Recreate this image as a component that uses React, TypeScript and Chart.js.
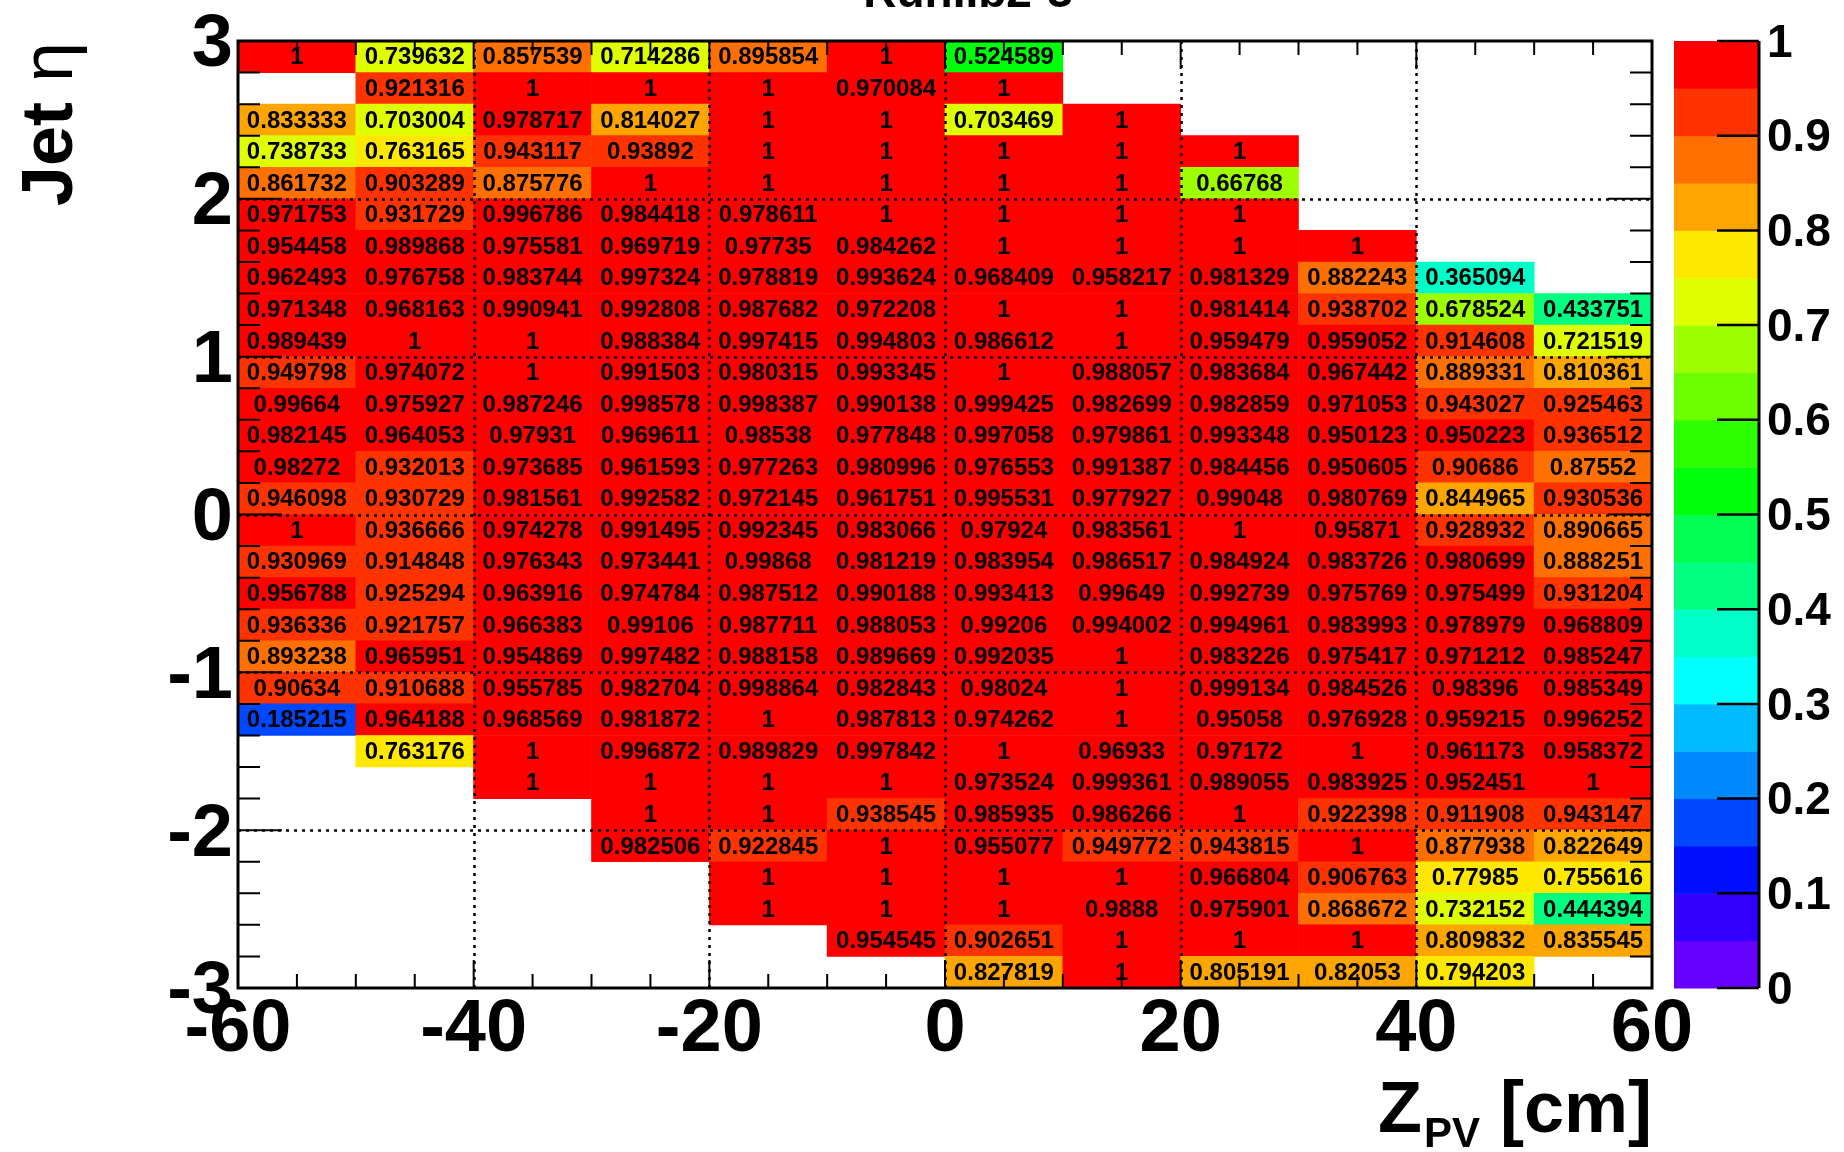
import React, { useEffect, useRef } from "react";
import { Chart, registerables } from "chart.js";

Chart.register(...registerables);

// ---- data ----
const zEdges = [-60, -50, -40, -30, -20, -10, 0, 10, 20, 30, 40, 50, 60];
const etaEdges = [
  -3, -2.8, -2.6, -2.4, -2.2, -2, -1.8, -1.6, -1.4, -1.2, -1, -0.8, -0.6, -0.4, -0.2, 0,
  0.2, 0.4, 0.6, 0.8, 1, 1.2, 1.4, 1.6, 1.8, 2, 2.2, 2.4, 2.6, 2.8, 3,
];
const N = null;
// rows listed from the top (2.8 < eta < 3.0) down to the bottom (-3.0 < eta < -2.8)
const efficiencyRows: (number | null)[][] = [
  [1, 0.739632, 0.857539, 0.714286, 0.895854, 1, 0.524589, N, N, N, N, N],
  [N, 0.921316, 1, 1, 1, 0.970084, 1, N, N, N, N, N],
  [0.833333, 0.703004, 0.978717, 0.814027, 1, 1, 0.703469, 1, N, N, N, N],
  [0.738733, 0.763165, 0.943117, 0.93892, 1, 1, 1, 1, 1, N, N, N],
  [0.861732, 0.903289, 0.875776, 1, 1, 1, 1, 1, 0.66768, N, N, N],
  [0.971753, 0.931729, 0.996786, 0.984418, 0.978611, 1, 1, 1, 1, N, N, N],
  [0.954458, 0.989868, 0.975581, 0.969719, 0.97735, 0.984262, 1, 1, 1, 1, N, N],
  [0.962493, 0.976758, 0.983744, 0.997324, 0.978819, 0.993624, 0.968409, 0.958217, 0.981329, 0.882243, 0.365094, N],
  [0.971348, 0.968163, 0.990941, 0.992808, 0.987682, 0.972208, 1, 1, 0.981414, 0.938702, 0.678524, 0.433751],
  [0.989439, 1, 1, 0.988384, 0.997415, 0.994803, 0.986612, 1, 0.959479, 0.959052, 0.914608, 0.721519],
  [0.949798, 0.974072, 1, 0.991503, 0.980315, 0.993345, 1, 0.988057, 0.983684, 0.967442, 0.889331, 0.810361],
  [0.99664, 0.975927, 0.987246, 0.998578, 0.998387, 0.990138, 0.999425, 0.982699, 0.982859, 0.971053, 0.943027, 0.925463],
  [0.982145, 0.964053, 0.97931, 0.969611, 0.98538, 0.977848, 0.997058, 0.979861, 0.993348, 0.950123, 0.950223, 0.936512],
  [0.98272, 0.932013, 0.973685, 0.961593, 0.977263, 0.980996, 0.976553, 0.991387, 0.984456, 0.950605, 0.90686, 0.87552],
  [0.946098, 0.930729, 0.981561, 0.992582, 0.972145, 0.961751, 0.995531, 0.977927, 0.99048, 0.980769, 0.844965, 0.930536],
  [1, 0.936666, 0.974278, 0.991495, 0.992345, 0.983066, 0.97924, 0.983561, 1, 0.95871, 0.928932, 0.890665],
  [0.930969, 0.914848, 0.976343, 0.973441, 0.99868, 0.981219, 0.983954, 0.986517, 0.984924, 0.983726, 0.980699, 0.888251],
  [0.956788, 0.925294, 0.963916, 0.974784, 0.987512, 0.990188, 0.993413, 0.99649, 0.992739, 0.975769, 0.975499, 0.931204],
  [0.936336, 0.921757, 0.966383, 0.99106, 0.987711, 0.988053, 0.99206, 0.994002, 0.994961, 0.983993, 0.978979, 0.968809],
  [0.893238, 0.965951, 0.954869, 0.997482, 0.988158, 0.989669, 0.992035, 1, 0.983226, 0.975417, 0.971212, 0.985247],
  [0.90634, 0.910688, 0.955785, 0.982704, 0.998864, 0.982843, 0.98024, 1, 0.999134, 0.984526, 0.98396, 0.985349],
  [0.185215, 0.964188, 0.968569, 0.981872, 1, 0.987813, 0.974262, 1, 0.95058, 0.976928, 0.959215, 0.996252],
  [N, 0.763176, 1, 0.996872, 0.989829, 0.997842, 1, 0.96933, 0.97172, 1, 0.961173, 0.958372],
  [N, N, 1, 1, 1, 1, 0.973524, 0.999361, 0.989055, 0.983925, 0.952451, 1],
  [N, N, N, 1, 1, 0.938545, 0.985935, 0.986266, 1, 0.922398, 0.911908, 0.943147],
  [N, N, N, 0.982506, 0.922845, 1, 0.955077, 0.949772, 0.943815, 1, 0.877938, 0.822649],
  [N, N, N, N, 1, 1, 1, 1, 0.966804, 0.906763, 0.77985, 0.755616],
  [N, N, N, N, 1, 1, 1, 0.9888, 0.975901, 0.868672, 0.732152, 0.444394],
  [N, N, N, N, N, 0.954545, 0.902651, 1, 1, 1, 0.809832, 0.835545],
  [N, N, N, N, N, N, 0.827819, 1, 0.805191, 0.82053, 0.794203, N],
];
const xGridValues = [-40, -20, 0, 20, 40];
const yGridValues = [-2, -1, 0, 1, 2];
const paletteColors = [
  "#6600ff", "#3300ff", "#0010ff", "#0048ff", "#0088ff",
  "#00bbff", "#00ffff", "#00ffc8", "#00ff80", "#00ff50",
  "#00ff0a", "#2eff00", "#6cff00", "#9eff00", "#dfff00",
  "#ffe800", "#ffa500", "#ff7000", "#ff3300", "#ff0000",
];
const titleText = "RunIIb2-3";

const FONT = '"Liberation Sans", Arial, Helvetica, sans-serif';

function colorFor(v: number) {
  const idx = Math.max(0, Math.min(paletteColors.length - 1, Math.floor(v * paletteColors.length)));
  return paletteColors[idx];
}

type Cell = { x: [number, number]; y: number; v: number };

function buildCells(): Cell[] {
  const cells: Cell[] = [];
  const nRows = efficiencyRows.length;
  efficiencyRows.forEach((row, r) => {
    const lo = etaEdges[nRows - 1 - r];
    const hi = etaEdges[nRows - r];
    row.forEach((v, c) => {
      if (v === null) return;
      cells.push({ x: [zEdges[c], zEdges[c + 1]], y: (lo + hi) / 2, v });
    });
  });
  return cells;
}

const decorPlugin = {
  id: "rootDecor",
  afterDatasetsDraw(chart: any) {
    const { ctx, chartArea: a } = chart;
    const xs = chart.scales.x;
    const ys = chart.scales.y;
    ctx.save();
    // dotted grid
    ctx.strokeStyle = "#000";
    ctx.lineWidth = 2.5;
    ctx.setLineDash([3, 5]);
    for (const v of xGridValues) {
      const px = Math.round(xs.getPixelForValue(v)) + 0.5;
      ctx.beginPath();
      ctx.moveTo(px, a.top);
      ctx.lineTo(px, a.bottom);
      ctx.stroke();
    }
    for (const v of yGridValues) {
      const py = Math.round(ys.getPixelForValue(v)) + 0.5;
      ctx.beginPath();
      ctx.moveTo(a.left, py);
      ctx.lineTo(a.right, py);
      ctx.stroke();
    }
    ctx.setLineDash([]);
    // cell texts
    ctx.fillStyle = "#000";
    ctx.font = `bold 24px ${FONT}`;
    ctx.textAlign = "center";
    ctx.textBaseline = "middle";
    const data = chart.data.datasets[0].data as Cell[];
    data.forEach((d) => {
      const cx = (xs.getPixelForValue(d.x[0]) + xs.getPixelForValue(d.x[1])) / 2;
      const cy = ys.getPixelForValue(d.y);
      ctx.fillText(String(d.v), cx, cy + 1);
    });
    // frame
    ctx.lineWidth = 3;
    ctx.strokeStyle = "#000";
    ctx.strokeRect(a.left, a.top, a.right - a.left, a.bottom - a.top);
    // x ticks (every 5, major every 20), top and bottom, pointing inward
    ctx.lineWidth = 2;
    for (let v = -60; v <= 60; v += 5) {
      const px = xs.getPixelForValue(v);
      const len = v % 20 === 0 ? 28 : 14;
      ctx.beginPath();
      ctx.moveTo(px, a.bottom);
      ctx.lineTo(px, a.bottom - len);
      ctx.moveTo(px, a.top);
      ctx.lineTo(px, a.top + len);
      ctx.stroke();
    }
    // y ticks (every 0.2, major every 1), left and right
    for (let k = -15; k <= 15; k++) {
      const v = k / 5;
      const py = ys.getPixelForValue(v);
      const len = k % 5 === 0 ? 44 : 22;
      ctx.beginPath();
      ctx.moveTo(a.left, py);
      ctx.lineTo(a.left + len, py);
      ctx.moveTo(a.right, py);
      ctx.lineTo(a.right - len, py);
      ctx.stroke();
    }
    ctx.restore();
  },
  afterDraw(chart: any) {
    const { ctx, chartArea: a } = chart;
    const zs = chart.scales.z;
    ctx.save();
    // colour bar
    const barL = zs.left + 22;
    const barR = zs.left + 107;
    for (let k = 0; k < paletteColors.length; k++) {
      const y0 = zs.getPixelForValue(k / paletteColors.length);
      const y1 = zs.getPixelForValue((k + 1) / paletteColors.length);
      ctx.fillStyle = paletteColors[k];
      ctx.fillRect(barL, y1, barR - barL, y0 - y1 + 0.5);
    }
    ctx.strokeStyle = "#000";
    ctx.lineWidth = 3;
    ctx.beginPath();
    ctx.moveTo(barR, zs.top);
    ctx.lineTo(barR, zs.bottom);
    ctx.stroke();
    ctx.lineWidth = 2.5;
    for (let k = 0; k <= 10; k++) {
      const py = zs.getPixelForValue(k / 10);
      ctx.beginPath();
      ctx.moveTo(barR - 42, py);
      ctx.lineTo(barR, py);
      ctx.stroke();
    }
    // title (mostly above the canvas, as in the reference)
    ctx.fillStyle = "#000";
    ctx.textBaseline = "alphabetic";
    ctx.textAlign = "center";
    ctx.font = `bold 46px ${FONT}`;
    ctx.fillText(titleText, 968, 7);
    // x title: Z_PV [cm]
    const big = `bold 72px ${FONT}`;
    const sub = `bold 42px ${FONT}`;
    ctx.textAlign = "left";
    ctx.font = big;
    const wZ = ctx.measureText("Z").width;
    const wRest = ctx.measureText(" [cm]").width;
    ctx.font = sub;
    const wSub = ctx.measureText("PV").width;
    const xEnd = a.right;
    let x0 = xEnd - (wZ + wSub + wRest + 2);
    const base = 1132;
    ctx.font = big;
    ctx.fillText("Z", x0, base);
    x0 += wZ;
    ctx.font = sub;
    ctx.fillText("PV", x0 + 2, base + 15);
    x0 += wSub + 2;
    ctx.font = big;
    ctx.fillText(" [cm]", x0, base);
    // y title: Jet η (rotated)
    ctx.save();
    ctx.translate(72, a.top + 1);
    ctx.rotate(-Math.PI / 2);
    ctx.textAlign = "right";
    ctx.font = `72px ${FONT}`;
    const wEta = ctx.measureText("η").width;
    ctx.fillText("η", 0, 0);
    ctx.font = `bold 72px ${FONT}`;
    ctx.fillText("Jet ", -wEta, 0);
    ctx.restore();
    ctx.restore();
  },
};

const noEdgePadding = (s: any) => {
  s.paddingTop = 0;
  s.paddingBottom = 0;
};

export default function App() {
  const ref = useRef<HTMLCanvasElement | null>(null);
  useEffect(() => {
    if (!ref.current) return;
    const cells = buildCells();
    const chart = new Chart(ref.current, {
      type: "bar",
      data: {
        datasets: [
          {
            data: cells as any,
            backgroundColor: (c: any) => (c.raw ? colorFor(c.raw.v) : "#fff"),
            borderWidth: 0,
            categoryPercentage: 1,
            barPercentage: 1,
          } as any,
        ],
      },
      options: {
        indexAxis: "y",
        responsive: false,
        maintainAspectRatio: false,
        devicePixelRatio: 1,
        animation: false,
        events: [],
        layout: { padding: { left: 0, right: 0, top: 41, bottom: 0 } },
        plugins: { legend: { display: false }, tooltip: { enabled: false }, title: { display: false } },
        scales: {
          x: {
            type: "linear",
            position: "bottom",
            min: -60,
            max: 60,
            offset: false,
            grid: { display: false },
            border: { display: false },
            ticks: {
              stepSize: 20,
              color: "#000",
              padding: -2,
              maxRotation: 0,
              autoSkip: false,
              font: { family: FONT, size: 74, weight: "bold", lineHeight: 1 },
            },
            afterFit: (s: any) => {
              s.height = 164;
            },
          },
          y: {
            type: "linear",
            position: "left",
            min: -3,
            max: 3,
            offset: false,
            grid: { display: false },
            border: { display: false },
            ticks: {
              stepSize: 1,
              color: "#000",
              padding: -3,
              labelOffset: 5,
              autoSkip: false,
              font: { family: FONT, size: 74, weight: "bold", lineHeight: 1 },
            },
            afterFit: (s: any) => {
              s.width = 238;
              noEdgePadding(s);
            },
          },
          z: {
            type: "linear",
            position: "right",
            min: 0,
            max: 1,
            offset: false,
            grid: { display: false },
            border: { display: false },
            ticks: {
              stepSize: 0.1,
              color: "#000",
              padding: 107,
              labelOffset: 3,
              autoSkip: false,
              callback: (v: any) => String(Math.round(Number(v) * 10) / 10),
              font: { family: FONT, size: 46, weight: "bold", lineHeight: 1 },
            },
            afterFit: (s: any) => {
              s.width = 192;
              noEdgePadding(s);
            },
          },
        } as any,
      },
      plugins: [decorPlugin],
    });
    return () => chart.destroy();
  }, []);
  return (
    <div style={{ position: "absolute", left: 0, top: 0, width: 1844, height: 1152, background: "#fff" }}>
      <canvas ref={ref} width={1844} height={1152} style={{ display: "block", width: 1844, height: 1152 }} />
    </div>
  );
}
